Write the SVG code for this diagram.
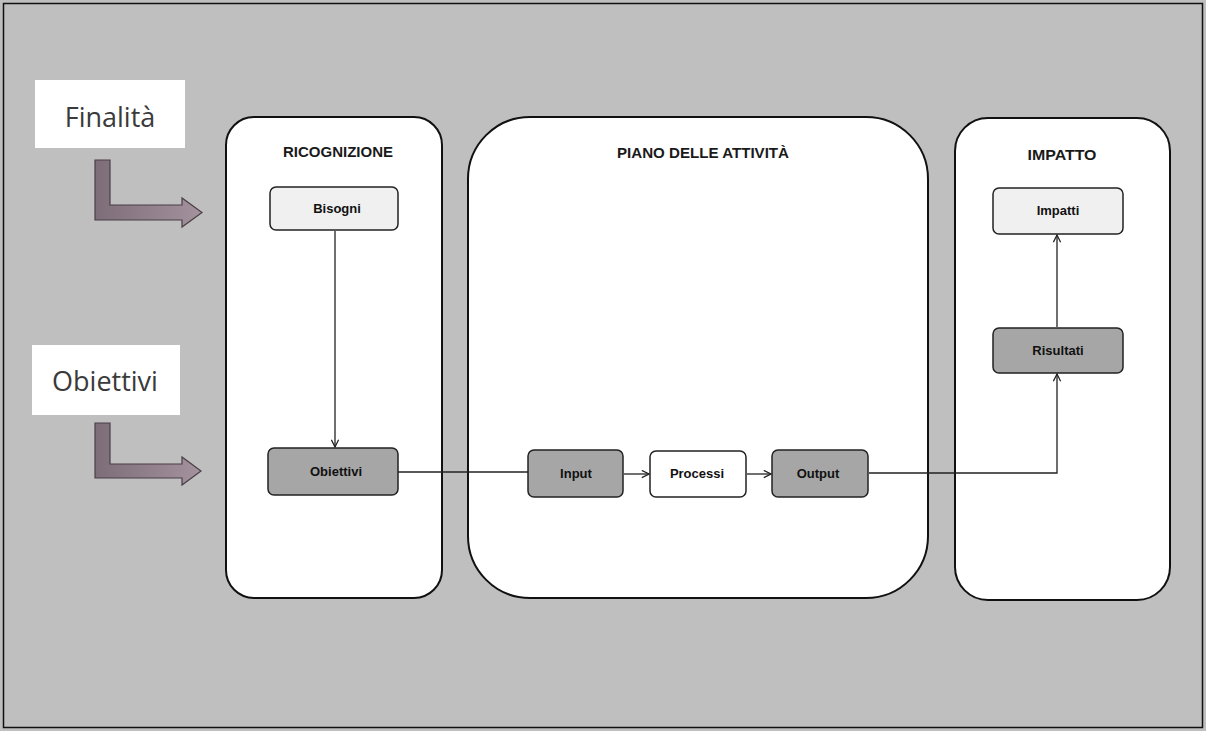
<svg xmlns="http://www.w3.org/2000/svg" width="1206" height="731" viewBox="0 0 1206 731">
  <defs>
    <style>
      .panel { fill: #ffffff; stroke: #111111; stroke-width: 2; }
      .title { font-family: "Liberation Sans", Arial, sans-serif; font-size: 15px; font-weight: bold; fill: #1a1a1a; text-anchor: middle; }
      .node-light { fill: #f0f0f0; stroke: #222222; stroke-width: 1.5; }
      .node-dark { fill: #a6a6a6; stroke: #222222; stroke-width: 1.5; }
      .node-white { fill: #ffffff; stroke: #222222; stroke-width: 1.5; }
      .label { font-family: "Liberation Sans", Arial, sans-serif; font-size: 13px; font-weight: bold; fill: #111111; text-anchor: middle; }
      .side-box { fill: #ffffff; }
      .side-text { font-family: "Open Sans", "Noto Sans", sans-serif; font-size: 27px; fill: #3a3a3a; text-anchor: middle; }
      .bent { fill: url(#bentFill); stroke: #4a3f46; stroke-width: 1.2; }
      .link { fill: none; stroke: #222222; stroke-width: 1.3; }
    </style>
    <linearGradient id="bentFill" x1="0" y1="0" x2="1" y2="0">
      <stop offset="0" stop-color="#7d6d78"/>
      <stop offset="1" stop-color="#a4939e"/>
    </linearGradient>
    <marker id="open-arrow" viewBox="0 0 10 10" refX="9" refY="5" markerWidth="9" markerHeight="9" markerUnits="userSpaceOnUse" orient="auto">
      <path d="M1,1 L9,5 L1,9" fill="none" stroke="#222222" stroke-width="1.4"/>
    </marker>
  </defs>

  <!-- page background and frame -->
  <rect x="0" y="0" width="1206" height="731" fill="#bfbfbf"/>
  <rect x="3.5" y="3.5" width="1199" height="724" fill="none" stroke="#111111" stroke-width="1.5"/>

  <!-- side labels with bent arrows -->
  <g id="finalita">
    <rect class="side-box" x="35" y="80" width="150" height="68"/>
    <text class="side-text" x="110" y="127">Finalità</text>
    <polygon class="bent" points="95,160 110,160 110,205 182,205 182,198 202,212.5 182,227 182,220 95,220"/>
  </g>
  <g id="obiettivi-side">
    <rect class="side-box" x="32" y="345" width="148" height="70"/>
    <text class="side-text" x="105" y="391">Obiettivi</text>
    <polygon class="bent" points="95,423 110,423 110,464 182,464 182,457 201,471 182,485 182,478 95,478"/>
  </g>

  <!-- panels -->
  <g id="ricognizione">
    <rect class="panel" x="226" y="117" width="216" height="481" rx="28" ry="28"/>
    <text class="title" x="338" y="157" textLength="110" lengthAdjust="spacingAndGlyphs">RICOGNIZIONE</text>
  </g>
  <g id="piano-attivita">
    <rect class="panel" x="468" y="117" width="460" height="481" rx="62" ry="62"/>
    <text class="title" x="703" y="158" textLength="172" lengthAdjust="spacingAndGlyphs">PIANO DELLE ATTIVITÀ</text>
  </g>
  <g id="impatto">
    <rect class="panel" x="955" y="118" width="215" height="482" rx="33" ry="33"/>
    <text class="title" x="1062" y="160" textLength="69" lengthAdjust="spacingAndGlyphs">IMPATTO</text>
  </g>

  <!-- nodes -->
  <g id="bisogni">
    <rect class="node-light" x="270" y="187" width="128" height="43" rx="6"/>
    <text class="label" x="337" y="213">Bisogni</text>
  </g>
  <g id="obiettivi">
    <rect class="node-dark" x="268" y="448" width="130" height="47" rx="6"/>
    <text class="label" x="336" y="476">Obiettivi</text>
  </g>
  <g id="input">
    <rect class="node-dark" x="528" y="450" width="95" height="47" rx="6"/>
    <text class="label" x="576" y="478">Input</text>
  </g>
  <g id="processi">
    <rect class="node-white" x="650" y="451" width="96" height="46" rx="6"/>
    <text class="label" x="697" y="478">Processi</text>
  </g>
  <g id="output">
    <rect class="node-dark" x="772" y="450" width="96" height="47" rx="6"/>
    <text class="label" x="818" y="478">Output</text>
  </g>
  <g id="risultati">
    <rect class="node-dark" x="993" y="328" width="130" height="45" rx="6"/>
    <text class="label" x="1058" y="355">Risultati</text>
  </g>
  <g id="impatti">
    <rect class="node-light" x="993" y="188" width="130" height="46" rx="6"/>
    <text class="label" x="1058" y="215">Impatti</text>
  </g>

  <!-- connectors -->
  <g id="connectors">
    <path class="link" d="M335,231 L335,447" marker-end="url(#open-arrow)"/>
    <path class="link" d="M398,472 L528,472"/>
    <path class="link" d="M624,474 L649,474" marker-end="url(#open-arrow)"/>
    <path class="link" d="M747,474 L771,474" marker-end="url(#open-arrow)"/>
    <path class="link" d="M869,473 L1057,473 L1057,374" marker-end="url(#open-arrow)"/>
    <path class="link" d="M1057,327 L1057,235" marker-end="url(#open-arrow)"/>
  </g>
</svg>
